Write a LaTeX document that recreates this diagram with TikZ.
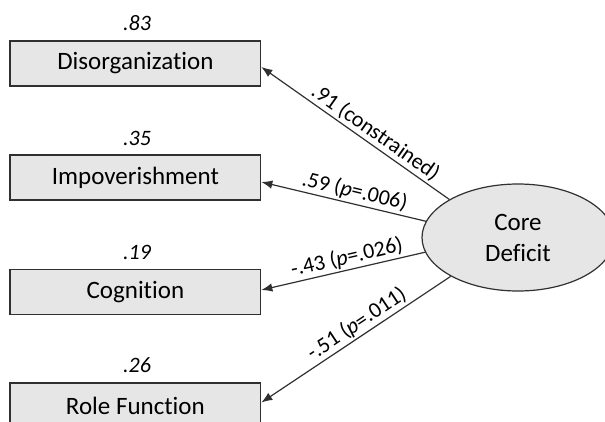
\documentclass[tikz,border=0pt]{standalone}
\usepackage{fontspec}
\setmainfont{Carlito}[Ligatures={NoCommon}]
\usetikzlibrary{arrows.meta,shapes.geometric}
\definecolor{boxfill}{HTML}{E6E6E6}
\definecolor{linecol}{HTML}{303030}
\begin{document}
\begin{tikzpicture}[x=1pt,y=-1pt,
  obsbox/.style={draw=linecol, line width=1.2pt, fill=boxfill, minimum width=250.7pt, minimum height=45pt, inner sep=0pt, font=\fontsize{25}{30}\selectfont},
  latent/.style={ellipse, draw=linecol, line width=1.2pt, fill=boxfill, minimum width=192pt, minimum height=107pt, inner sep=0pt, align=center, font=\fontsize{25}{31}\selectfont},
  rsq/.style={font=\fontsize{22}{26}\selectfont\itshape, inner sep=0pt},
  path/.style={draw=linecol, line width=1.2pt, {Latex[length=11pt,width=8.5pt]}-},
  coef/.style={sloped, above, inner sep=2pt, font=\fontsize{22}{26}\selectfont}
]
\useasboundingbox (0,0) rectangle (605,421);
\clip (0,0) rectangle (605,421);
\node[obsbox] (b1) at (135.4,63.5) {Disorganization};
\node[obsbox] (b2) at (135.4,177.5) {Impoverishment};
\node[obsbox] (b3) at (135.4,292) {Cognition};
\node[obsbox] (b4) at (135.4,405.5) {Role Function};
\node[rsq] (r1) at (137,23) {.83};
\node[rsq] (r2) at (137,138) {.35};
\node[rsq] (r3) at (137,252) {.19};
\node[rsq] (r4) at (137,365) {.26};
\node[latent] (cd) at (518,237.5) {Core\\Deficit};
\draw[path] ([yshift=-3.5pt]b1.east) -- node[coef,pos=0.57] {.91 (constrained)} (cd.151);
\draw[path] ([yshift=-4.5pt]b2.east) -- node[coef,pos=0.55] {.59 (\textit{p}=.006)} (cd.170.5);
\draw[path] ([yshift=2pt]b3.east) -- node[coef,pos=0.54] {-.43 (\textit{p}=.026)} (cd.189);
\draw[path] ([yshift=3pt]b4.east) -- node[coef,pos=0.54] {-.51 (\textit{p}=.011)} (cd.210);
\end{tikzpicture}
\end{document}
